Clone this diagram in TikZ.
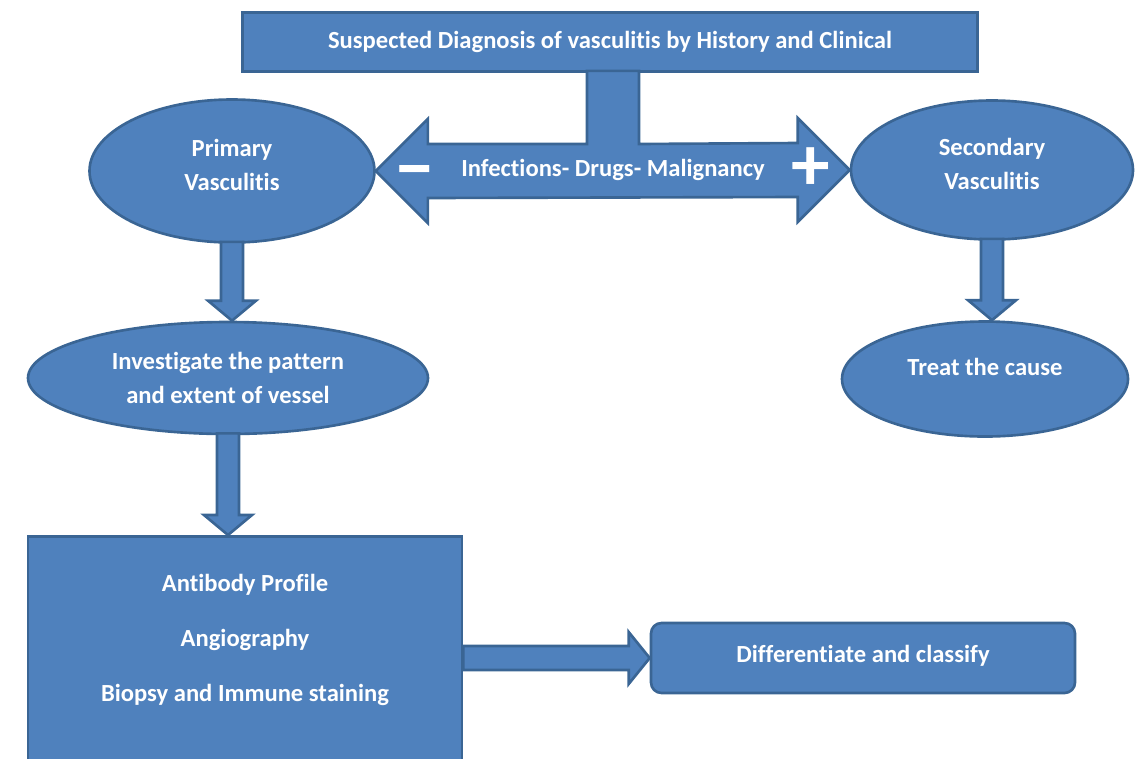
\documentclass[tikz,border=0pt]{standalone}
\usepackage{fontspec}
\setmainfont{Carlito}[Ligatures=NoCommon]
\usepackage{xcolor}
\usetikzlibrary{shapes.geometric,calc}
\definecolor{shapeblue}{HTML}{4F81BD}
\definecolor{shapeline}{HTML}{3A6594}

% block arrow pointing down from #1 to #2
\newcommand{\blockdown}[2]{%
  \draw[fatarrow] ($(#1.south)+(-11,-2)$) -- ($(#1.south |- #2.north)+(-11,-20)$)
    -- ($(#1.south |- #2.north)+(-24,-20)$) -- (#1.south |- #2.north)
    -- ($(#1.south |- #2.north)+(24,-20)$) -- ($(#1.south |- #2.north)+(11,-20)$)
    -- ($(#1.south)+(11,-2)$) -- cycle;}
% extra depth under a text, lifts it inside its shape
\newcommand{\lift}[1]{\rule[-#1]{0pt}{0pt}}

\begin{document}
\begin{tikzpicture}[x=0.02cm, y=-0.02cm]
\tikzstyle{every node}=[text=white, align=center,
                        font=\fontsize{14}{19.4}\selectfont\bfseries]
\tikzstyle{blue shape}=[fill=shapeblue, draw=shapeline, line width=1.5pt]
\tikzstyle{oval}=[blue shape, ellipse, inner sep=0pt]
\tikzstyle{plainbox}=[blue shape, rectangle, inner sep=0pt]
\tikzstyle{fatarrow}=[blue shape, line join=miter]
\tikzstyle{sign}=[font=\fontsize{44}{44}\selectfont\bfseries, inner sep=0pt]
\useasboundingbox (0,0) rectangle (1138,758);
\clip (0,0) rectangle (1138,758);

\node[plainbox, minimum width=735*0.02cm, minimum height=59*0.02cm]
  (susp) at (610,42) {Suspected Diagnosis of vasculitis by History and Clinical};
\node[oval, minimum width=285*0.02cm, minimum height=143*0.02cm]
  (prim) at (232,171) {Primary\\Vasculitis\lift{7.4pt}};
\node[oval, minimum width=282*0.02cm, minimum height=139*0.02cm]
  (sec) at (992,170) {Secondary\\Vasculitis\lift{7.4pt}};
\node[oval, minimum width=400*0.02cm, minimum height=112*0.02cm]
  (invest) at (228,378) {Investigate the pattern\\and extent of vessel};
\node[oval, minimum width=286*0.02cm, minimum height=115*0.02cm]
  (treat) at (985,379) {Treat the cause\lift{14.2pt}};
\node[plainbox, anchor=north, minimum width=434*0.02cm, inner ysep=38*0.02cm]
  (tests) at (245,535) {Antibody Profile\\[11.9pt]Angiography\\[11.9pt]%
  Biopsy and Immune staining\lift{100pt}};
\node[plainbox, rounded corners=6pt, minimum width=424*0.02cm, minimum height=70*0.02cm]
  (diff) at (863,658) {Differentiate and classify\lift{4.6pt}};

% T-shaped double arrow under the top box
\draw[fatarrow] ($(susp.south)+(-23,-2)$) -- ($(susp.south |- prim.east)+(-23,-27)$)
  -- ($(prim.east)+(52,-27)$) -- ($(prim.east)+(52,-52)$) -- (prim.east)
  -- ($(prim.east)+(52,52)$) -- ($(prim.east)+(52,27)$)
  -- ($(sec.west)+(-52,27)$) -- ($(sec.west)+(-52,52)$) -- (sec.west)
  -- ($(sec.west)+(-52,-52)$) -- ($(sec.west)+(-52,-27)$)
  -- ($(susp.south |- prim.east)+(29,-27)$) -- ($(susp.south)+(29,-2)$) -- cycle;
\node (cause) at (613,170) {Infections- Drugs- Malignancy};
\node[sign] (minus) at (415,179) {−};
\node[sign] (plus) at (811,169) {+};

% downward arrows
\blockdown{prim}{invest}
\blockdown{invest}{tests}
\blockdown{sec}{treat}

% arrow to the last box
\draw[fatarrow] ($(tests.east |- diff.west)+(0,-12)$) -- ($(diff.west)+(-21,-12)$)
  -- ($(diff.west)+(-21,-26)$) -- (diff.west) -- ($(diff.west)+(-21,26)$)
  -- ($(diff.west)+(-21,12)$) -- ($(tests.east |- diff.west)+(0,12)$) -- cycle;
\end{tikzpicture}
\end{document}
